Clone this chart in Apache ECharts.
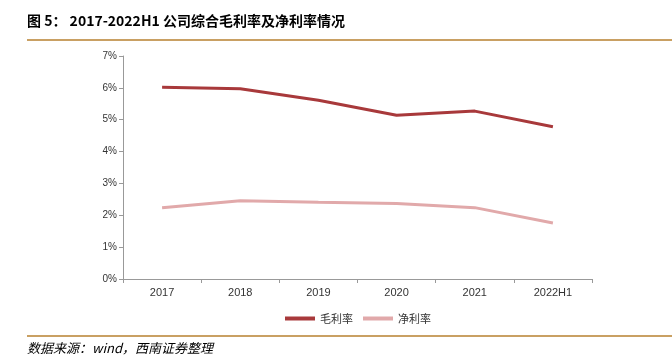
<!DOCTYPE html>
<html><head><meta charset="utf-8">
<script src="https://cdn.jsdelivr.net/npm/echarts@6/dist/echarts.min.js"></script>
<style>html,body{margin:0;padding:0;background:#fff}#c{width:672px;height:356px}</style>
</head><body><div id="c"></div>
<script>
const categories = ['2017','2018','2019','2020','2021','2022H1'];
const grossMargin = [6.02, 5.97, 5.61, 5.14, 5.27, 4.78];
const netMargin = [2.24, 2.46, 2.41, 2.37, 2.24, 1.76];
const yTicks = [0,1,2,3,4,5,6,7];
const seriesNames = ['毛利率','净利率'];

const chart = echarts.init(document.getElementById('c'));
chart.setOption({
  animation:false,
  textStyle:{fontFamily:'Liberation Sans, Arial, sans-serif'},
  grid:{left:123, right:80, top:56, bottom:77},
  legend:{
    data:seriesNames, top:308, left:280, itemWidth:30, itemHeight:4, itemGap:10,
    icon:'rect',
    textStyle:{fontFamily:'Noto Sans CJK SC', fontSize:11, color:'#333'}
  },
  xAxis:{
    type:'category', data:categories, boundaryGap:true,
    axisLine:{lineStyle:{color:'#999'}},
    axisTick:{show:true, length:4, lineStyle:{color:'#999'}},
    axisLabel:{color:'#333', fontSize:11, margin:8}
  },
  yAxis:{
    type:'value', min:yTicks[0], max:yTicks[yTicks.length-1], interval:1,
    axisLine:{show:true, lineStyle:{color:'#999'}},
    axisTick:{show:true, length:4, lineStyle:{color:'#999'}},
    splitLine:{show:false},
    axisLabel:{color:'#333', fontSize:10, margin:6, formatter:v=>v+'%'}
  },
  series:[
    {name:seriesNames[0], type:'line', data:grossMargin, symbol:'none', lineStyle:{width:3, color:'#A8393B'}, itemStyle:{color:'#A8393B'}},
    {name:seriesNames[1], type:'line', data:netMargin, symbol:'none', lineStyle:{width:3, color:'#E1A9AA'}, itemStyle:{color:'#E1A9AA'}}
  ],
  graphic:[
    {type:'text', left:27, top:14, style:{text:'图 5： 2017-2022H1 公司综合毛利率及净利率情况', font:'bold 14px "Noto Sans CJK SC"', fill:'#000'}},
    {type:'rect', left:27, top:39, shape:{width:645, height:2}, style:{fill:'#C9A063'}},
    {type:'rect', left:27, top:335, shape:{width:645, height:2}, style:{fill:'#C9A063'}},
    {type:'text', left:27, top:342, style:{text:'数据来源：wind，西南证券整理', font:'italic 13px "Noto Sans CJK SC"', fill:'#000'}}
  ]
});
</script></body></html>
